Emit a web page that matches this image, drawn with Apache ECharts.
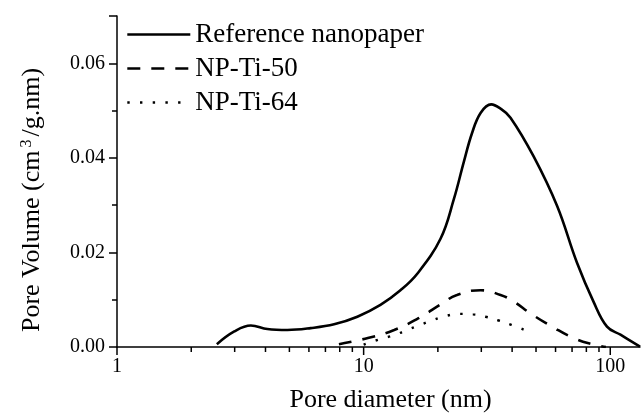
<html>
<head>
    <meta charset='utf-8'>
    <script src='https://cdn.jsdelivr.net/npm/echarts@6.0.0/dist/echarts.min.js'></script>
    <style>
        html, body, #main {
            width: 100%;
            height: 100%;
            margin: 0;
            background: #fff;
        }
    </style>
</head>
<body>

<div id='main'></div>
<script>
    // Reference nanopaper
    var refX = [2.54, 2.99, 3.49, 4.07, 4.91, 6.10, 7.59, 9.43, 11.7, 14.1, 16.5, 20.5, 23.2, 25.5, 27.5, 29.8, 32.9, 35.9, 39.4, 48.9, 60.9, 73.3, 85.5, 97, 110, 132];
    var refY = [0.0006, 0.0033, 0.00455, 0.0038, 0.0036, 0.0040, 0.0048, 0.0064, 0.0089, 0.0120, 0.0155, 0.0229, 0.0312, 0.0392, 0.0452, 0.0495, 0.0513, 0.0504, 0.0485, 0.0403, 0.0298, 0.0178, 0.0096, 0.0043, 0.0026, 0.0001];
    // NP-Ti-50
    var ti50X = [7.94, 10.4, 13.3, 16.7, 20.8, 23.9, 29.8, 35.9, 40.6, 47.5, 58.1, 71.1, 85.5, 96];
    var ti50Y = [0.0006, 0.0019, 0.0036, 0.0061, 0.0092, 0.0110, 0.0120, 0.0110, 0.0096, 0.0071, 0.0043, 0.0019, 0.0005, 0.0];
    // NP-Ti-64
    var ti64X = [10.0, 11.7, 13.3, 15.0, 17.0, 19.1, 21.7, 24.5, 27.7, 31.2, 35.3, 39.7, 45.0];
    var ti64Y = [0.0005, 0.0017, 0.0025, 0.0036, 0.0047, 0.0057, 0.0066, 0.0070, 0.0069, 0.0064, 0.0056, 0.0047, 0.0036];

    var xMajorTicks = [1, 10, 100];
    var xMinorTicks = [2, 3, 4, 5, 6, 7, 8, 9, 20, 30, 40, 50, 60, 70, 80, 90];
    var yTickLabels = ['0.00', '0.02', '0.04', '0.06'];

    var font = 'Liberation Serif';

    function pairs(xs, ys) {
        var res = [];
        for (var i = 0; i < xs.length; i++) {
            res.push([xs[i], ys[i]]);
        }
        return res;
    }

    var tickData = [];
    xMajorTicks.forEach(function (v) { tickData.push([v, 1]); });
    xMinorTicks.forEach(function (v) { tickData.push([v, 0]); });

    var myChart = echarts.init(document.getElementById('main'));
    myChart.setOption({
        backgroundColor: '#fff',
        animation: false,
        grid: {
            left: 117,
            right: 1,
            top: 16,
            bottom: 69
        },
        legend: {
            orient: 'vertical',
            left: 121,
            top: 16,
            itemWidth: 63,
            itemHeight: 14,
            itemGap: 7,
            data: ['Reference nanopaper', 'NP-Ti-50', 'NP-Ti-64'],
            itemStyle: { opacity: 0 },
            lineStyle: { width: 2.6 },
            textStyle: {
                fontFamily: font,
                fontSize: 27,
                color: '#000',
                padding: [0, 0, 0, 0]
            }
        },
        xAxis: {
            type: 'log',
            logBase: 10,
            min: 1,
            max: 132,
            name: 'Pore diameter (nm)',
            nameLocation: 'middle',
            nameGap: 40,
            nameTextStyle: {
                fontFamily: font,
                fontSize: 26,
                color: '#000',
                padding: [0, 0, 0, 24]
            },
            axisLine: { lineStyle: { color: '#000', width: 1.5 } },
            axisTick: { show: false },
            minorTick: { show: false },
            splitLine: { show: false },
            axisLabel: {
                fontFamily: font,
                fontSize: 20,
                color: '#000',
                margin: 10,
                showMaxLabel: false,
                formatter: function (v) {
                    var r = Math.round(v);
                    return xMajorTicks.indexOf(r) >= 0 ? String(r) : '';
                }
            }
        },
        yAxis: {
            type: 'value',
            min: 0,
            max: 0.07,
            interval: 0.02,
            name: 'Pore Volume (cm{sup|3}/g.nm)',
            nameLocation: 'middle',
            nameGap: 72,
            nameTextStyle: {
                fontFamily: font,
                fontSize: 26,
                color: '#000',
                padding: [0, 37, 0, 0],
                rich: {
                    sup: {
                        fontFamily: font,
                        fontSize: 16,
                        color: '#000',
                        verticalAlign: 'top',
                        padding: [0, 3, 10, 3]
                    }
                }
            },
            axisLine: { show: true, lineStyle: { color: '#000', width: 1.5 } },
            axisTick: { show: true, inside: false, length: 8, lineStyle: { color: '#000', width: 1.5 } },
            minorTick: { show: true, splitNumber: 2, length: 5, lineStyle: { color: '#000', width: 1.5 } },
            splitLine: { show: false },
            axisLabel: {
                fontFamily: font,
                fontSize: 20,
                color: '#000',
                margin: 12,
                showMaxLabel: false,
                formatter: function (v) {
                    var s = v.toFixed(2);
                    return yTickLabels.indexOf(s) >= 0 ? s : '';
                }
            }
        },
        series: [
            {
                name: 'Reference nanopaper',
                type: 'line',
                data: pairs(refX, refY),
                smooth: 0.4,
                symbol: 'none',
                lineStyle: { color: '#000', width: 2.6, type: 'solid' },
                itemStyle: { color: '#000' }
            },
            {
                name: 'NP-Ti-50',
                type: 'line',
                data: pairs(ti50X, ti50Y),
                smooth: 0.5,
                symbol: 'none',
                lineStyle: { color: '#000', width: 2.6, type: [13, 11] },
                itemStyle: { color: '#000' }
            },
            {
                name: 'NP-Ti-64',
                type: 'line',
                data: pairs(ti64X, ti64Y),
                smooth: 0.5,
                symbol: 'none',
                lineStyle: { color: '#000', width: 2.4, type: [2.4, 10.3] },
                itemStyle: { color: '#000' }
            },
            {
                // log-axis ticks at 1..9 x 10^n
                name: 'ticks',
                type: 'custom',
                silent: true,
                clip: false,
                data: tickData,
                encode: { x: 0, y: 1 },
                renderItem: function (params, api) {
                    var p = api.coord([api.value(0), 0]);
                    var len = api.value(1) ? 8 : 5;
                    return {
                        type: 'line',
                        shape: { x1: p[0], y1: p[1], x2: p[0], y2: p[1] + len },
                        style: { stroke: '#000', lineWidth: 1.5 }
                    };
                }
            }
        ]
    });
</script>
</body>
</html>
